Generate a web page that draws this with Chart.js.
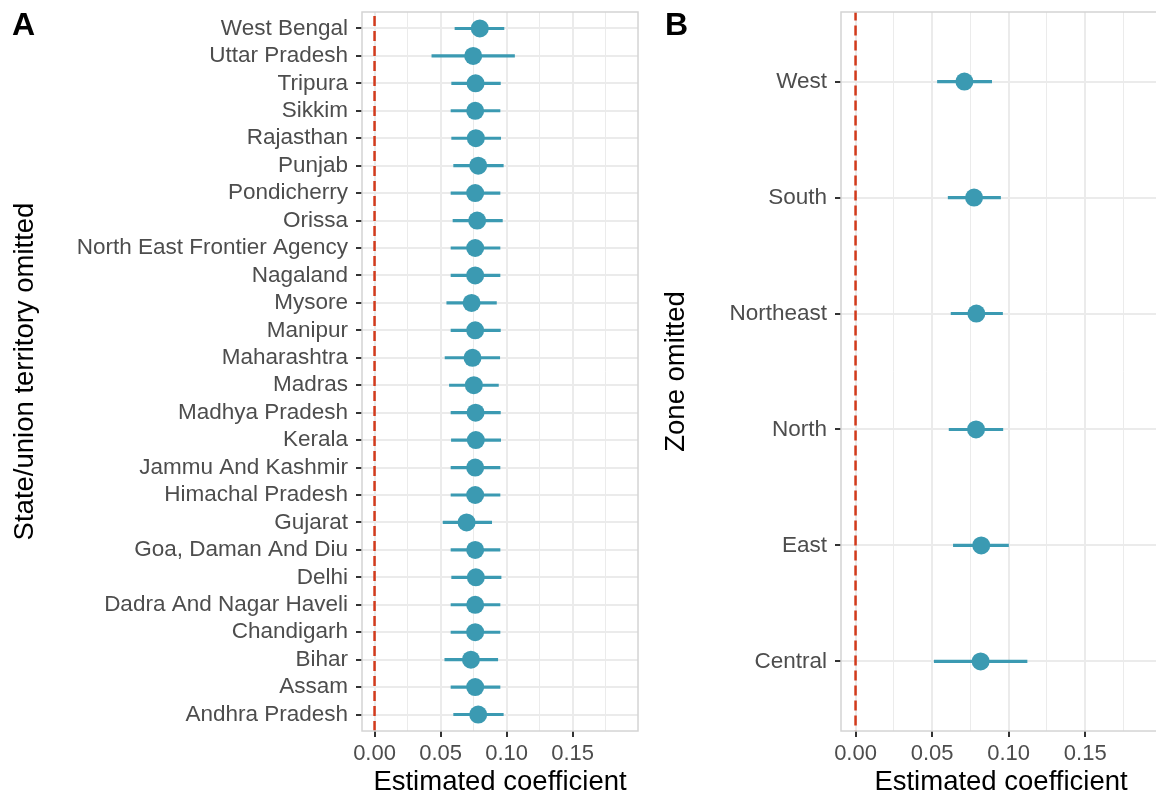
<!DOCTYPE html>
<html>
<head>
<meta charset="utf-8">
<script src="https://cdn.jsdelivr.net/npm/chart.js@4.4.1/dist/chart.umd.min.js"></script>
<style>
html, body { margin: 0; padding: 0; background: #fff; }
#wrap { position: relative; width: 1156px; height: 797px; overflow: hidden; font-family: "Liberation Sans", Arial, sans-serif; }
#cA { position: absolute; left: 0; top: 0; }
#cB { position: absolute; left: 650px; top: 0; }
.tag { position: absolute; top: 8px; font-weight: bold; font-size: 32px; line-height: 32px; color: #000; }
</style>
</head>
<body>
<div id="wrap">
  <canvas id="cA" width="650" height="797"></canvas>
  <canvas id="cB" width="520" height="797"></canvas>
  <div class="tag" style="left:12px">A</div>
  <div class="tag" style="left:665px">B</div>
</div>
<script>
// panel A: one state / union territory left out at a time (top to bottom)
const states = [
    "West Bengal", "Uttar Pradesh", "Tripura", "Sikkim", "Rajasthan", "Punjab",
    "Pondicherry", "Orissa", "North East Frontier Agency", "Nagaland", "Mysore",
    "Manipur", "Maharashtra", "Madras", "Madhya Pradesh", "Kerala",
    "Jammu And Kashmir", "Himachal Pradesh", "Gujarat", "Goa, Daman And Diu",
    "Delhi", "Dadra And Nagar Haveli", "Chandigarh", "Bihar", "Assam", "Andhra Pradesh",
];
const stateEst = [0.0797, 0.0747, 0.0765, 0.0762, 0.0767, 0.0785, 0.0762, 0.0777, 0.0762, 0.0762, 0.0735, 0.0762, 0.0742,
    0.0752, 0.0765, 0.0767, 0.0762, 0.0762, 0.0697, 0.0762, 0.0767, 0.0762, 0.0762, 0.0730, 0.0762, 0.0785];
const stateLo = [0.0609, 0.0434, 0.0584, 0.0579, 0.0584, 0.0599, 0.0579, 0.0594, 0.0579, 0.0579, 0.0547, 0.0579, 0.0534,
    0.0567, 0.0579, 0.0582, 0.0579, 0.0579, 0.0519, 0.0579, 0.0584, 0.0579, 0.0579, 0.0532, 0.0579, 0.0599];
const stateHi = [0.0980, 0.1060, 0.0953, 0.0950, 0.0955, 0.0975, 0.0950, 0.0968, 0.0950, 0.0950, 0.0923, 0.0953, 0.0948,
    0.0938, 0.0953, 0.0955, 0.0950, 0.0950, 0.0887, 0.0950, 0.0958, 0.0950, 0.0950, 0.0933, 0.0950, 0.0975];

// panel B: one zone left out at a time (top to bottom)
const zones = ["West", "South", "Northeast", "North", "East", "Central"];
const zoneEst = [0.0711, 0.0774, 0.0789, 0.0787, 0.0821, 0.0817];
const zoneLo = [0.0535, 0.0605, 0.0624, 0.0611, 0.0639, 0.0514];
const zoneHi = [0.0889, 0.0947, 0.0960, 0.0962, 0.0999, 0.1120];

const xTicks = [0, 0.025, 0.05, 0.075, 0.1, 0.125, 0.15, 0.175];
const xMin = -0.0095;
const xMax = 0.1995;
const refLine = 0;

const dotColor = "#3B9AB2";
const refColor = "#D23A1C";
const gridColor = "#EBEBEB";

Chart.defaults.font.family = '"Liberation Sans", Arial, sans-serif';

const isMajor = (v) => Math.abs(v / 0.05 - Math.round(v / 0.05)) < 1e-6;

const panelBorder = {
    id: "panelBorder",
    afterDatasetsDraw(chart) {
        const { ctx, chartArea: a } = chart;
        ctx.save();
        ctx.strokeStyle = "#D4D4D4";
        ctx.lineWidth = 1.5;
        ctx.strokeRect(a.left, a.top, a.right - a.left, a.bottom - a.top);
        ctx.restore();
    },
};

function makePlot(canvas, cats, est, lo, hi, yTitle, axisWidth, rightPad, titlePad) {
    const n = cats.length;
    return new Chart(canvas, {
        type: "scatter",
        data: {
            datasets: [
                {
                    data: est.map((v, i) => ({ x: v, y: i + 1 })),
                    backgroundColor: dotColor,
                    pointRadius: 9,
                    pointHoverRadius: 9,
                    pointBorderWidth: 0,
                    order: 0,
                },
                {
                    type: "bar",
                    indexAxis: "y",
                    data: cats.map((c, i) => ({ x: [lo[i], hi[i]], y: i + 1 })),
                    backgroundColor: dotColor,
                    barThickness: 2.5,
                    order: 1,
                },
                {
                    type: "line",
                    data: [{ x: refLine, y: 0 }, { x: refLine, y: n + 1 }],
                    borderColor: refColor,
                    borderWidth: 2.5,
                    borderDash: [10, 5],
                    pointRadius: 0,
                    order: 2,
                },
            ],
        },
        options: {
            responsive: false,
            animation: false,
            events: [],
            layout: { padding: { left: 0, top: 12, right: rightPad, bottom: 0 } },
            plugins: { legend: { display: false }, tooltip: { enabled: false } },
            scales: {
                x: {
                    type: "linear",
                    min: xMin,
                    max: xMax,
                    offset: false,
                    afterBuildTicks: (s) => { s.ticks = xTicks.map((v) => ({ value: v })); },
                    afterFit: (s) => { s.height = 66; s.paddingLeft = 0; s.paddingRight = 0; },
                    border: { display: false },
                    grid: {
                        offset: false,
                        color: gridColor,
                        lineWidth: (c) => (c.tick && isMajor(c.tick.value) ? 2 : 1),
                        tickLength: 6,
                        tickWidth: 2,
                        tickColor: (c) => (c.tick && isMajor(c.tick.value) ? "#333333" : "rgba(0,0,0,0)"),
                    },
                    ticks: {
                        color: "#4D4D4D",
                        font: { size: 22 },
                        padding: 4,
                        maxRotation: 0,
                        autoSkip: false,
                        callback: (v) => (isMajor(v) ? v.toFixed(2) : ""),
                    },
                    title: {
                        display: true,
                        text: "Estimated coefficient",
                        color: "#000",
                        font: { size: 27.5, lineHeight: 1 },
                        padding: { top: 0, bottom: 1 },
                    },
                },
                y: {
                    type: "linear",
                    reverse: true,
                    min: 0.4,
                    max: n + 0.6,
                    offset: false,
                    afterBuildTicks: (s) => { s.ticks = cats.map((c, i) => ({ value: i + 1 })); },
                    afterFit: (s) => { s.width = axisWidth; s.paddingTop = 0; s.paddingBottom = 0; },
                    border: { display: false },
                    grid: { offset: false, color: gridColor, lineWidth: 2, tickLength: 6, tickWidth: 2, tickColor: "#333333" },
                    ticks: {
                        color: "#4D4D4D",
                        font: { size: 22.5 },
                        padding: 8,
                        autoSkip: false,
                        callback: (v) => cats[Math.round(v) - 1],
                    },
                    title: {
                        display: true,
                        text: yTitle,
                        color: "#000",
                        font: { size: 27.5, lineHeight: 1 },
                        padding: { top: titlePad, bottom: 0 },
                    },
                },
            },
        },
        plugins: [panelBorder],
    });
}

const charts = [];
charts.push(makePlot(document.getElementById("cA"), states, stateEst, stateLo, stateHi,
    "State/union territory omitted", 362, 12, 12));
charts.push(makePlot(document.getElementById("cB"), zones, zoneEst, zoneLo, zoneHi,
    "Zone omitted", 191, 8, 13));
</script>
</body>
</html>
